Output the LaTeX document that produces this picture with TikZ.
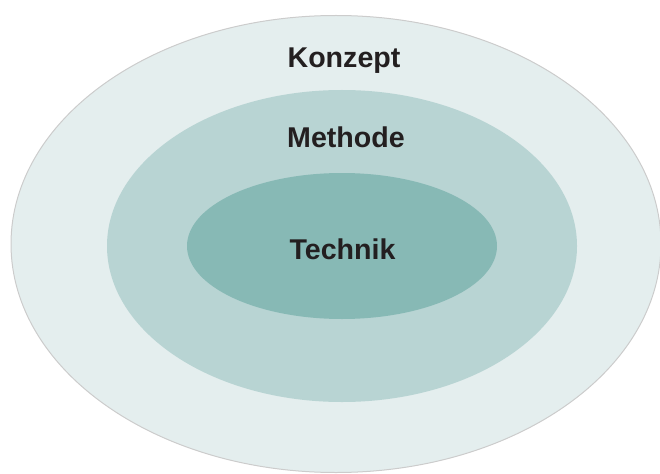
\documentclass[tikz,border=0pt]{standalone}
\usepackage{fontspec}
\setmainfont{Liberation Sans}
\usetikzlibrary{shapes.geometric}
\definecolor{outerfill}{HTML}{E4EEEE}
\definecolor{outerline}{HTML}{CCCCCC}
\definecolor{middlefill}{HTML}{B8D4D3}
\definecolor{innerfill}{HTML}{87B9B5}
\definecolor{labeltext}{HTML}{231F20}
\begin{document}
\begin{tikzpicture}[x=1pt, y=-1pt,
    ring/.style = {ellipse, inner sep=0pt},
    lbl/.style = {anchor=base, text=labeltext, font=\fontsize{28.6}{30}\selectfont\bfseries}]
            \useasboundingbox (0,0) rectangle (660,473);
            % outer
            \node[ring, draw=outerline, line width=1pt, fill=outerfill,
                  minimum width=650pt, minimum height=457pt] (konzept) at (336,244) {};
            % middle
            \node[ring, fill=middlefill,
                  minimum width=470pt, minimum height=312pt] (methode) at (342,246) {};
            % inner
            \node[ring, fill=innerfill,
                  minimum width=310pt, minimum height=146pt] (technik) at (342,246) {};

            \node[lbl] (konzeptlbl) at (344,68) {Konzept};
            \node[lbl] (methodelbl) at (346,147) {Methode};
            \node[lbl] (techniklbl) at (342.5,259) {Technik};
        \end{tikzpicture}
\end{document}
